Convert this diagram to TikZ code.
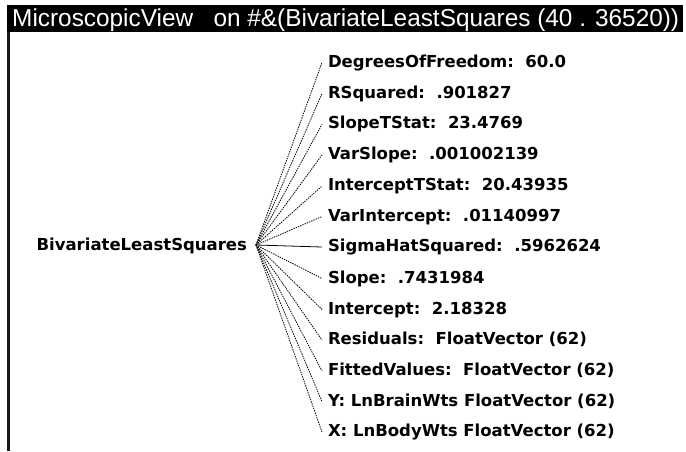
\documentclass[tikz,border=0pt]{standalone}
\usepackage{fontspec}
\usepackage{graphicx}
\newfontfamily\leaffont{DejaVu Sans}
\newfontfamily\titlefont{Liberation Sans}
\tikzset{
  leaf/.style={anchor=west, inner xsep=6pt, inner ysep=0pt, outer sep=0pt,
    text height=12pt, text depth=3pt, font=\leaffont\bfseries\fontsize{16.5}{18}\selectfont},
  rootnode/.style={anchor=east, inner xsep=9pt, inner ysep=0pt, outer sep=0pt,
    text height=12pt, text depth=1pt, font=\leaffont\bfseries\fontsize{16.5}{18}\selectfont},
  fanline/.style={line width=0.8pt, dash pattern=on 1.4pt off 1.0pt, draw=black},
  fansolid/.style={line width=0.8pt, draw=black}
}
\begin{document}
\begin{tikzpicture}[x=1pt,y=-1pt]
\useasboundingbox (0,0) rectangle (686,451);
\fill[white] (0,0) rectangle (686,451);
% window frame
\fill[black] (7,5) rectangle (683,32);
\fill[black!90] (7,32) rectangle (9.5,451);
\node[anchor=base west, inner sep=0pt, text=white,
  font=\titlefont\fontsize{24.5}{26}\selectfont] (title) at (12,26.5)
  {\resizebox{667pt}{\height}{MicroscopicView\ \ \ on \#\&(BivariateLeastSquares (40 . 36520))}};
% root
\node[rootnode] (root) at (256,245) {BivariateLeastSquares};
\coordinate (fan) at (256,245);
% leaves
\node[leaf] (l1) at (322,62.5) {DegreesOfFreedom:\ \ 60.0};
\node[leaf] (l2) at (322,93.5) {RSquared:\ \ .901827};
\node[leaf] (l3) at (322,124.3) {SlopeTStat:\ \ 23.4769};
\node[leaf] (l4) at (322,155) {VarSlope:\ \ .001002139};
\node[leaf] (l5) at (322,186) {InterceptTStat:\ \ 20.43935};
\node[leaf] (l6) at (322,216.5) {VarIntercept:\ \ .01140997};
\node[leaf] (l7) at (322,247) {SigmaHatSquared:\ \ .5962624};
\node[leaf] (l8) at (322,278.5) {Slope:\ \ .7431984};
\node[leaf] (l9) at (322,309.5) {Intercept:\ \ 2.18328};
\node[leaf] (l10) at (322,340) {Residuals:\ \ FloatVector (62)};
\node[leaf] (l11) at (322,371) {FittedValues:\ \ FloatVector (62)};
\node[leaf] (l12) at (322,401.5) {Y: LnBrainWts FloatVector (62)};
\node[leaf] (l13) at (322,432) {X: LnBodyWts FloatVector (62)};
% connectors
\foreach \i in {1,2,3,4,5,6,8,9,10,11,12,13}{
  \draw[fanline] (fan) -- (l\i.west);
}
\draw[fansolid] (fan) -- (l7.west);
\end{tikzpicture}
\end{document}
